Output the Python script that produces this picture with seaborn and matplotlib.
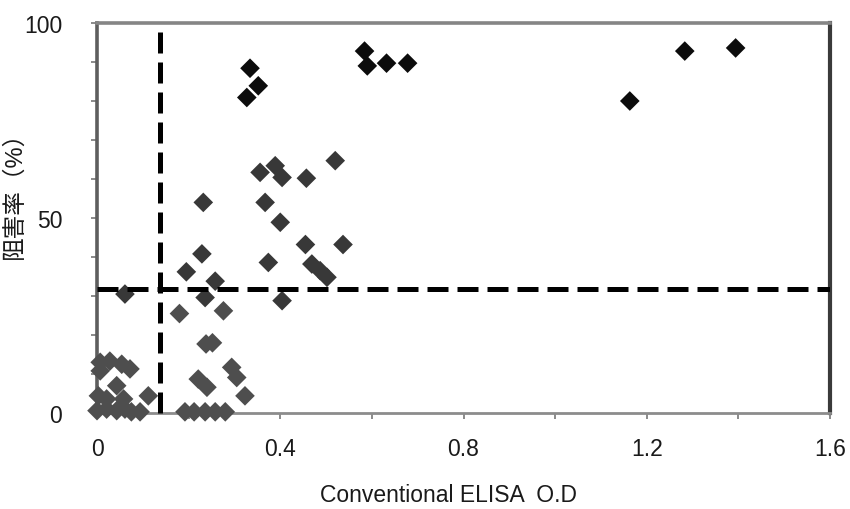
import matplotlib
matplotlib.use("Agg")
import matplotlib.pyplot as plt
import seaborn as sns
import pandas as pd
from matplotlib.ticker import MultipleLocator

# ---- data ----
high_x = [0.334, 0.352, 0.327, 0.584, 0.590, 0.632, 0.678, 1.163, 1.283, 1.394]
high_y = [88.4, 83.9, 80.9, 92.8, 89.0, 89.7, 89.7, 80.0, 92.8, 93.6]

mid_x = [0.356, 0.389, 0.404, 0.457, 0.520, 0.232, 0.367, 0.400, 0.455, 0.537,
         0.229, 0.374, 0.195, 0.469, 0.487, 0.502, 0.258, 0.236, 0.404, 0.061]
mid_y = [61.7, 63.4, 60.4, 60.2, 64.7, 54.0, 54.0, 48.9, 43.2, 43.2,
         40.8, 38.6, 36.2, 38.2, 36.5, 34.8, 33.8, 29.6, 28.8, 30.5]

low_x = [0.180, 0.276, 0.238, 0.252, 0.294, 0.305, 0.221, 0.240, 0.323,
         0.192, 0.212, 0.236, 0.258, 0.280,
         0.007, 0.028, 0.054, 0.072, 0.007, 0.043, 0.112, 0.003, 0.021, 0.058,
         0.000, 0.021, 0.043, 0.061, 0.075, 0.094]
low_y = [25.5, 26.2, 17.7, 18.0, 11.7, 9.1, 8.7, 6.6, 4.4,
         0.3, 0.3, 0.3, 0.3, 0.3,
         13.0, 13.3, 12.5, 11.3, 10.8, 7.0, 4.4, 4.4, 3.6, 3.6,
         0.6, 1.0, 0.6, 1.0, 0.3, 0.3]

cutoff_x = 0.137
cutoff_y = 31.8

x_ticks = [0, 0.4, 0.8, 1.2, 1.6]
x_tick_labels = ["0", "0.4", "0.8", "1.2", "1.6"]
y_ticks = [0, 50, 100]
y_tick_labels = ["0", "50", "100"]

x_label = "Conventional ELISA  O.D"
y_label = "阻害率（%）"

df = pd.DataFrame({
    "od": high_x + mid_x + low_x,
    "inh": high_y + mid_y + low_y,
    "grp": ["high"] * len(high_x) + ["mid"] * len(mid_x) + ["low"] * len(low_x),
})
palette = {"high": "#0c0c0c", "mid": "#383838", "low": "#4e4e4e"}

# ---- plot ----
sns.set_theme(style="white")
plt.rcParams["font.family"] = ["Liberation Sans", "Noto Sans CJK JP", "DejaVu Sans"]

fig = plt.figure(figsize=(8.5, 5.1), dpi=100)
ax = fig.add_axes([97 / 850, 1 - 414 / 510, 733 / 850, 390 / 510])

sns.scatterplot(data=df, x="od", y="inh", hue="grp", palette=palette,
                marker="D", s=100, linewidth=0, legend=False,
                clip_on=False, zorder=3, ax=ax)

ax.axvline(cutoff_x, color="black", lw=3.6, dashes=(4.2, 1.8), zorder=4,
           clip_on=False)
ax.axhline(cutoff_y, color="black", lw=3.6, dashes=(4.2, 1.8), zorder=4)

ax.set_xlim(0, 1.6)
ax.set_ylim(0, 100)
ax.set_xticks(x_ticks)
ax.set_xticklabels(x_tick_labels)
ax.set_yticks(y_ticks)
ax.set_yticklabels(y_tick_labels)
ax.xaxis.set_minor_locator(MultipleLocator(0.2))
ax.yaxis.set_minor_locator(MultipleLocator(10))

ax.tick_params(axis="both", which="both", direction="out", color="#777777",
               width=1.2, length=4, labelsize=16.5, labelcolor="#1a1a1a")
ax.tick_params(axis="both", which="minor", labelsize=0)
ax.tick_params(axis="y", which="both", left=True, pad=21)
ax.tick_params(axis="x", which="both", bottom=True, pad=13)

for side, col, lw in [("left", "#5e5e5e", 2.6), ("bottom", "#8c8c8c", 2.0),
                      ("top", "#858585", 2.6), ("right", "#3a3a3a", 3.0)]:
    ax.spines[side].set_visible(True)
    ax.spines[side].set_color(col)
    ax.spines[side].set_linewidth(lw)

ax.set_xlabel(x_label, fontsize=16.5, color="#1a1a1a", va="center")
ax.set_ylabel(y_label, fontsize=17, color="#1a1a1a")
ax.xaxis.set_label_coords(0.48, -0.21)
ax.yaxis.set_label_coords(-0.097, 0.575)
ax.grid(False)

fig.savefig("out.png", dpi=100, facecolor="white")
